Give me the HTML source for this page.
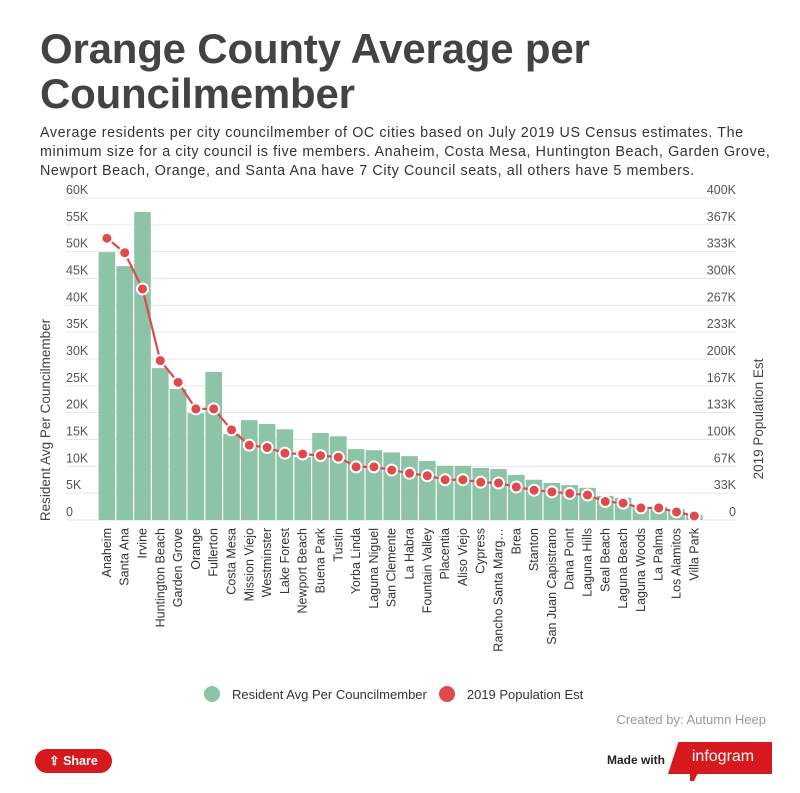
<!DOCTYPE html>
<html><head><meta charset="utf-8"><style>
body{margin:0;width:800px;height:793px;background:#fff;font-family:"Liberation Sans",sans-serif;overflow:hidden;position:relative}
h1{position:absolute;left:40px;top:26px;margin:0;font-size:42px;line-height:45px;color:#434343;font-weight:bold;letter-spacing:-0.2px}
.sub{position:absolute;left:40px;top:124px;width:760px;font-size:14.3px;line-height:19px;color:#333;margin:0;letter-spacing:0.6px;white-space:nowrap}
</style></head><body>
<h1>Orange County Average per<br>Councilmember</h1>
<p class="sub">Average residents per city councilmember of OC cities based on July 2019 US Census estimates. The<br>minimum size for a city council is five members. Anaheim, Costa Mesa, Huntington Beach, Garden Grove,<br>Newport Beach, Orange, and Santa Ana have 7 City Council seats, all others have 5 members.</p>
<svg id="chart" width="800" height="793" style="position:absolute;left:0;top:0"></svg>
<script>
const cities=["Anaheim","Santa Ana","Irvine","Huntington Beach","Garden Grove","Orange","Fullerton","Costa Mesa","Mission Viejo","Westminster","Lake Forest","Newport Beach","Buena Park","Tustin","Yorba Linda","Laguna Niguel","San Clemente","La Habra","Fountain Valley","Placentia","Aliso Viejo","Cypress","Rancho Santa Marg…","Brea","Stanton","San Juan Capistrano","Dana Point","Laguna Hills","Seal Beach","Laguna Beach","Laguna Woods","La Palma","Los Alamitos","Villa Park"];
const avgValues=[49.9,47.3,57.4,28.3,24.4,19.9,27.6,16.0,18.6,17.9,16.9,11.7,16.2,15.6,13.2,13.0,12.6,11.9,11.0,10.1,10.1,9.7,9.5,8.4,7.5,6.9,6.5,6.0,4.5,4.1,2.4,2.4,2.0,1.0];
const popValues=[350,332,287,198,171,138,138,112,93,90,83,82,80,78,66,66,62,58,55,50,50,47,46,41,37,35,33,31,23,21,15,15,10,5];
const leftTicks=["0","5K","10K","15K","20K","25K","30K","35K","40K","45K","50K","55K","60K"];
const rightTicks=["0","33K","67K","100K","133K","167K","200K","233K","267K","300K","333K","367K","400K"];
const svg=document.getElementById('chart');const NS="http://www.w3.org/2000/svg";
const y0=520,yTop=198,x0=98,slot=17.8;
const yL=v=>y0-(v/60)*(y0-yTop);
const yR=v=>y0-(v/400)*(y0-yTop);
const xC=i=>x0+slot*i+slot/2;
function mk(t,a,p){const e=document.createElementNS(NS,t);for(const k in a)e.setAttribute(k,a[k]);(p||svg).appendChild(e);return e;}
for(let k=0;k<leftTicks.length;k++){const y=y0-k*(y0-yTop)/12;
 const g=mk('line',{x1:66,x2:736,y1:y,y2:y,stroke:'#e6e6e6','stroke-width':1});
 
 const t=mk('text',{x:66,y:y-4,'font-size':12.5,fill:'#555','text-anchor':'start'});t.textContent=leftTicks[k];
 
 const r=mk('text',{x:736,y:y-4,'font-size':12.5,fill:'#555','text-anchor':'end'});r.textContent=rightTicks[k];
 }
cities.forEach((c,i)=>{const y=yL(avgValues[i]);
 const b=mk('rect',{x:x0+slot*i+0.6,y:y,width:slot-1.2,height:y0-y,fill:'#8dc3a7'});
 
 const t=mk('text',{transform:`translate(${xC(i)+4},528) rotate(-90)`,'font-size':12.5,fill:'#333','text-anchor':'end'});t.textContent=c;
 });
const pts=popValues.map((v,i)=>xC(i)+','+yR(v)).join(' ');
const pl=mk('polyline',{points:pts,fill:'none',stroke:'#e0494e','stroke-width':2.2});

popValues.forEach((v,i)=>{const c=mk('circle',{cx:xC(i),cy:yR(v),r:5.5,fill:'#e0494e',stroke:'#fff','stroke-width':2});
 });
const lt=mk('text',{transform:'translate(50,420) rotate(-90)','font-size':13.5,fill:'#444','text-anchor':'middle'});lt.textContent='Resident Avg Per Councilmember';

const rt=mk('text',{transform:'translate(763,419) rotate(-90)','font-size':13.5,fill:'#444','text-anchor':'middle'});rt.textContent='2019 Population Est';

</script>
<div style="position:absolute;top:686px;left:204px;font-size:13px;color:#333;display:flex;align-items:center">
 <span style="display:flex;align-items:center"><span style="width:16px;height:16px;border-radius:50%;background:#8dc3a7;margin-right:12px"></span>Resident Avg Per Councilmember</span>
 <span style="display:flex;align-items:center;margin-left:12px"><span style="width:16px;height:16px;border-radius:50%;background:#e0494e;margin-right:12px"></span>2019 Population Est</span>
</div>
<div style="position:absolute;right:34px;top:712px;font-size:13px;color:#999">Created by: Autumn Heep</div>
<div style="position:absolute;left:35px;top:749px;width:77px;height:24px;border-radius:12px;background:#d7191e;color:#fff;font-size:12.5px;font-weight:bold;line-height:24px;text-align:center">⇪ Share</div>
<div style="position:absolute;left:607px;top:753px;font-size:12px;color:#222;font-weight:bold">Made with</div>
<div style="position:absolute;left:668px;top:742px;width:104px;height:32px;background:#d7191e;clip-path:polygon(10% 0,100% 0,100% 100%,0 100%);color:#fff;font-size:16px;line-height:30px;text-align:center;padding-left:6px;box-sizing:border-box">infogram</div>
<div style="position:absolute;left:690px;top:773px;width:0;height:0;border-left:4px solid #d7191e;border-right:4px solid transparent;border-top:8px solid #d7191e"></div>
</body></html>
